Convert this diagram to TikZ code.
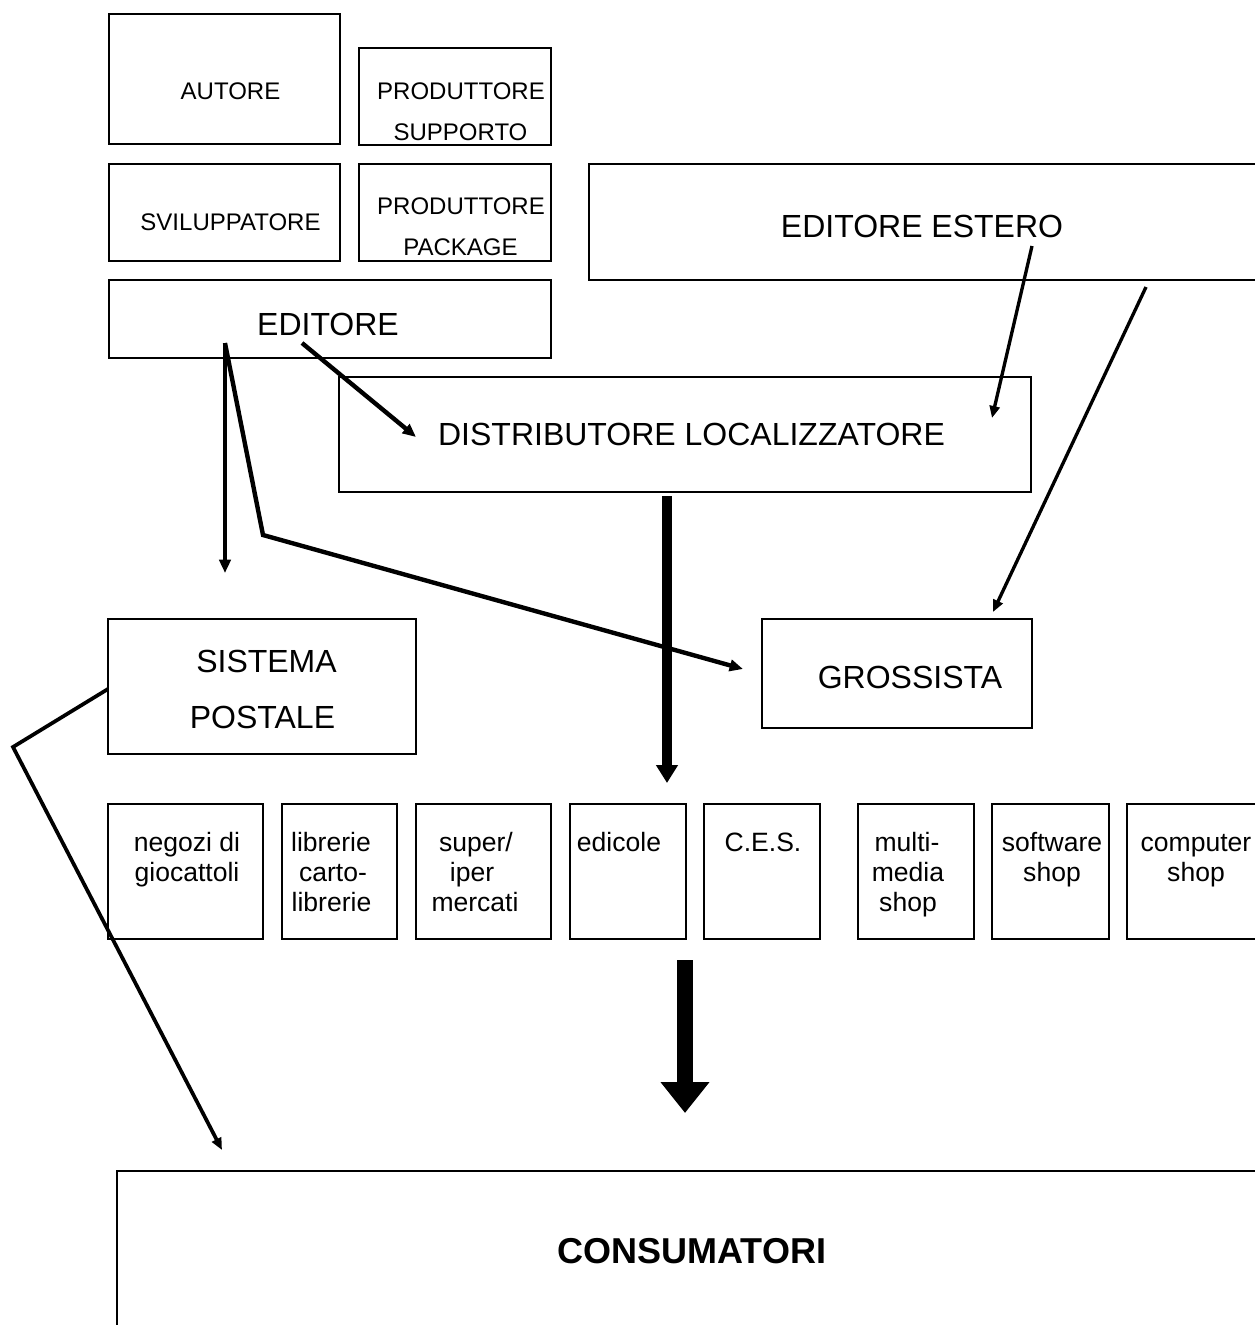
\documentclass[tikz,border=0pt]{standalone}
\usepackage{fontspec}
\setmainfont{Liberation Sans}
\usetikzlibrary{arrows.meta}
\begin{document}
\begin{tikzpicture}[x=0.75pt,y=-0.75pt,
  box/.style={draw, line width=1.3pt, inner sep=0pt},
  lbl/.style={inner sep=0pt, anchor=base},
  fsmall/.style={font=\fontsize{18}{20}\selectfont},
  fbig/.style={font=\fontsize{24}{26}\selectfont},
  fshop/.style={font=\fontsize{19.9}{22}\selectfont},
  fcons/.style={font=\fontsize{27}{30}\selectfont\bfseries},
  conn/.style={line width=3.3pt, -{Triangle[length=10pt,width=8.5pt]}},
  connthin/.style={line width=2.5pt, -{Triangle[length=9pt,width=7.5pt]}},
  fatA/.style={line width=7.5pt, -{Triangle[length=13.5pt,width=15.75pt]}},
  fatB/.style={line width=12pt, -{Triangle[length=23.25pt,width=35.25pt]}}
]
\useasboundingbox (0,0) rectangle (1255,1325);
\fill[white] (0,0) rectangle (1255,1325);
\clip (0,0) rectangle (1255,1325);

% boxes
\node[box, minimum width=231*0.75pt, minimum height=130*0.75pt] (autore) at (224.5,79) {};
\node[box, minimum width=192*0.75pt, minimum height=97*0.75pt] (prodsup) at (455,96.5) {};
\node[box, minimum width=231*0.75pt, minimum height=97*0.75pt] (svil) at (224.5,212.5) {};
\node[box, minimum width=192*0.75pt, minimum height=97*0.75pt] (prodpack) at (455,212.5) {};
\node[box, minimum width=442*0.75pt, minimum height=78*0.75pt] (editore) at (330,319) {};
\node[box, minimum width=711*0.75pt, minimum height=116*0.75pt] (estero) at (944.5,222) {};
\node[box, minimum width=692*0.75pt, minimum height=115*0.75pt] (distr) at (685,434.5) {};
\node[box, minimum width=308*0.75pt, minimum height=135*0.75pt] (sistema) at (262,686.5) {};
\node[box, minimum width=270*0.75pt, minimum height=109*0.75pt] (gross) at (897,673.5) {};
\node[box, minimum width=155*0.75pt, minimum height=135*0.75pt] (negozi) at (185.5,871.5) {};
\node[box, minimum width=115*0.75pt, minimum height=135*0.75pt] (librerie) at (339.5,871.5) {};
\node[box, minimum width=135*0.75pt, minimum height=135*0.75pt] (super) at (483.5,871.5) {};
\node[box, minimum width=116*0.75pt, minimum height=135*0.75pt] (edicole) at (628,871.5) {};
\node[box, minimum width=116*0.75pt, minimum height=135*0.75pt] (ces) at (762,871.5) {};
\node[box, minimum width=116*0.75pt, minimum height=135*0.75pt] (multi) at (916,871.5) {};
\node[box, minimum width=117*0.75pt, minimum height=135*0.75pt] (software) at (1050.5,871.5) {};
\node[box, minimum width=173*0.75pt, minimum height=135*0.75pt] (computer) at (1213.5,871.5) {};
\node[box, minimum width=1183*0.75pt, minimum height=229*0.75pt] (consum) at (708.5,1285.5) {};

% labels
\node[lbl, fsmall] (tautore) at (230.5,99) {AUTORE};
\node[lbl, fsmall] (tprodsupA) at (461,99) {PRODUTTORE};
\node[lbl, fsmall] (tprodsupB) at (460.5,140) {SUPPORTO};
\node[lbl, fsmall] (tsvil) at (230.5,230) {SVILUPPATORE};
\node[lbl, fsmall] (tprodpackA) at (461,214) {PRODUTTORE};
\node[lbl, fsmall] (tprodpackB) at (460.5,255) {PACKAGE};
\node[lbl, fbig] (teditore) at (328,335) {EDITORE};
\node[lbl, fbig] (testero) at (922,237) {EDITORE ESTERO};
\node[lbl, fbig] (tdistr) at (691.5,445) {DISTRIBUTORE LOCALIZZATORE};
\node[lbl, fbig] (tgross) at (910,688) {GROSSISTA};
\node[lbl, fbig] (tsistemaA) at (266.5,672) {SISTEMA};
\node[lbl, fbig] (tsistemaB) at (262.5,728) {POSTALE};
\node[lbl, fcons] (tconsum) at (692,1263) {CONSUMATORI};

\node[lbl, fshop] (tnegA) at (187,851) {negozi di};
\node[lbl, fshop] (tnegB) at (187,881) {giocattoli};
\node[lbl, fshop] (tlibA) at (331,851) {librerie};
\node[lbl, fshop] (tlibB) at (333,881) {carto-};
\node[lbl, fshop] (tlibC) at (331.5,911) {librerie};
\node[lbl, fshop] (tsupA) at (476,851) {super/};
\node[lbl, fshop] (tsupB) at (472,881) {iper};
\node[lbl, fshop] (tsupC) at (475,911) {mercati};
\node[lbl, fshop] (tedi) at (619,851) {edicole};
\node[lbl, fshop] (tces) at (763,851) {C.E.S.};
\node[lbl, fshop] (tmulA) at (907,851) {multi-};
\node[lbl, fshop] (tmulB) at (908,881) {media};
\node[lbl, fshop] (tmulC) at (908,911) {shop};
\node[lbl, fshop] (tsofA) at (1052,851) {software};
\node[lbl, fshop] (tsofB) at (1052,881) {shop};
\node[lbl, fshop] (tcomA) at (1196,851) {computer};
\node[lbl, fshop] (tcomB) at (1196,881) {shop};

% connector end points
\coordinate (edA) at (302,343);
\coordinate (edB) at (225,343);
\coordinate (edKnee) at (263,535);
\coordinate (distrIn) at (416,437);
\coordinate (sisIn) at (225,573);
\coordinate (grossIn) at (743,669);
\coordinate (estA) at (1032,246);
\coordinate (estInD) at (992,418);
\coordinate (estB) at (1146,287);
\coordinate (grossTop) at (993,612);
\coordinate (distrOut) at (667,496);
\coordinate (shopsIn) at (667,783);
\coordinate (shopsOut) at (685,960);
\coordinate (consIn) at (685,1113);
\coordinate (sisOut) at (108,689);
\coordinate (sisKnee) at (13,747);
\coordinate (consInB) at (222,1150);

% connectors
\draw[conn] (edA) -- (distrIn);
\draw[conn] (edB) -- (sisIn);
\draw[conn] (edB) -- (edKnee) -- (grossIn);
\draw[connthin] (estA) -- (estInD);
\draw[connthin] (estB) -- (grossTop);
\draw[fatA] (distrOut) -- (shopsIn);
\draw[fatB] (shopsOut) -- (consIn);
\draw[connthin, line width=2.8pt] (sisOut) -- (sisKnee) -- (consInB);
\end{tikzpicture}
\end{document}
